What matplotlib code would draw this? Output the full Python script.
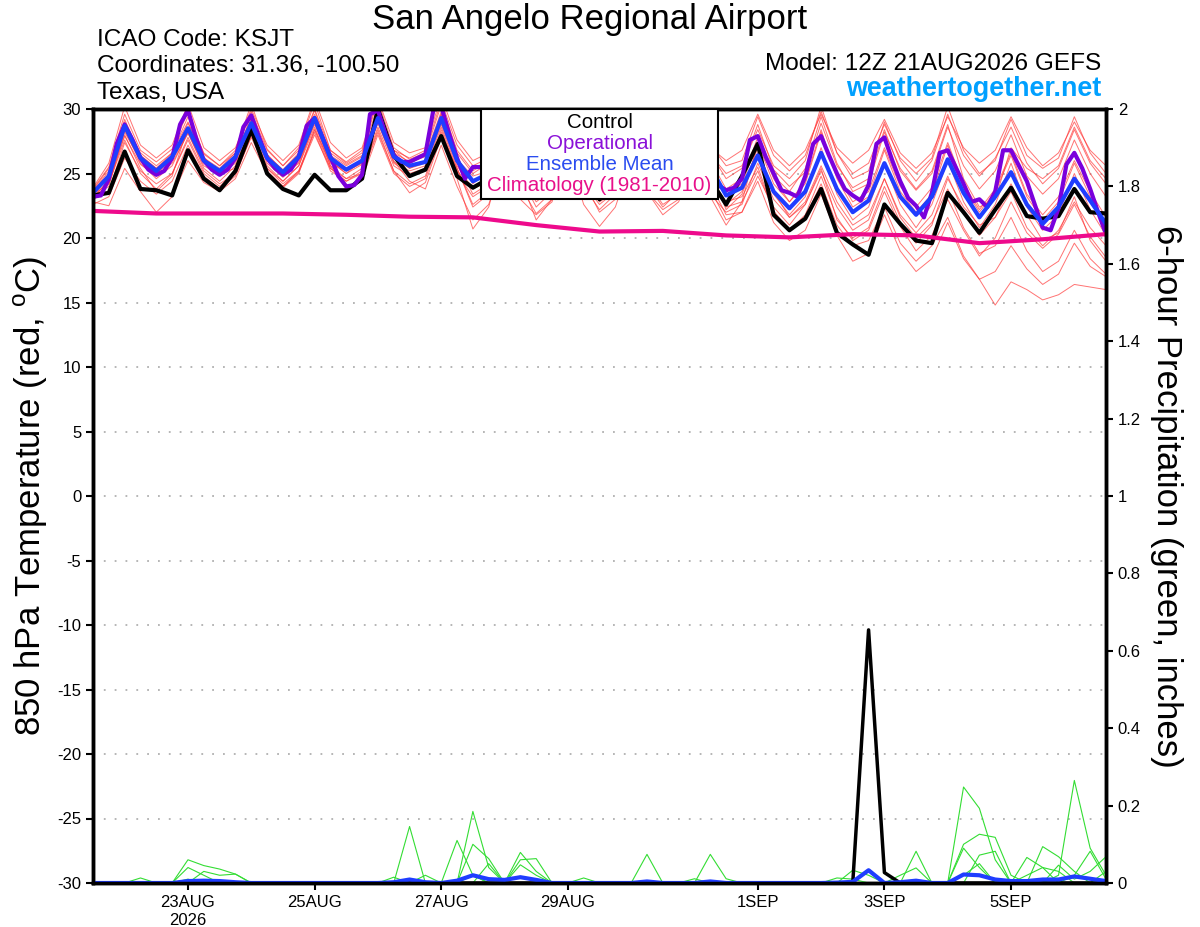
import numpy as np
import pandas as pd
import matplotlib
matplotlib.use('Agg')
import matplotlib.pyplot as plt
from matplotlib.patches import Rectangle

plt.rcParams['font.family'] = 'Liberation Sans'
plt.rcParams['mathtext.fontset'] = 'custom'
plt.rcParams['mathtext.rm'] = 'Liberation Sans'
plt.rcParams['axes.unicode_minus'] = False

# 6-hourly GEFS steps from 12Z 21AUG2026, operational run is 3-hourly
times = pd.date_range('2026-08-21 12:00', periods=65, freq='6h')
times_op = pd.date_range('2026-08-21 12:00', periods=129, freq='3h')
clim_times = pd.date_range('2026-08-21 12:00', periods=17, freq='24h')

ctl_t = [23.3, 23.5, 26.7, 23.8, 23.7, 23.3, 26.8, 24.6,
         23.7, 25.2, 28.4, 25.0, 23.8, 23.3, 24.9, 23.7,
         23.7, 24.6, 30.0, 26.4, 24.8, 25.3, 27.9, 24.8,
         23.9, 24.6, 27.8, 25.5, 23.6, 24.3, 27.5, 25.0,
         23.0, 24.0, 27.6, 25.2, 23.8, 24.5, 27.4, 24.5,
         22.6, 24.8, 27.3, 21.8, 20.6, 21.5, 23.8, 20.4,
         19.5, 18.7, 22.6, 21.1, 19.8, 19.6, 23.5, 22.0,
         20.4, 22.2, 23.9, 21.7, 21.5, 21.7, 23.8, 22.0, 21.9]

mean_t = [23.5, 24.8, 28.7, 26.2, 25.2, 26.3, 28.5, 26.0,
          25.2, 26.3, 28.9, 26.2, 25.1, 26.3, 29.3, 26.2,
          25.3, 26.0, 29.3, 26.3, 25.6, 25.9, 29.3, 26.0,
          24.4, 25.0, 28.3, 26.0, 24.6, 25.5, 28.4, 26.0,
          24.5, 25.5, 28.2, 25.8, 24.5, 25.3, 28.0, 25.5,
          23.3, 23.9, 26.4, 23.6, 22.3, 23.6, 26.6, 23.8,
          22.0, 22.9, 25.8, 23.2, 21.8, 23.2, 26.1, 23.5,
          21.6, 23.2, 25.1, 22.6, 21.1, 22.4, 24.6, 22.9, 21.1]

oper_t = [23.2, 23.3, 24.6, 27.3, 28.8, 27.6, 26.2, 25.3,
          24.9, 25.2, 26.2, 28.8, 29.9, 27.8, 26.0, 25.3,
          24.9, 25.3, 26.2, 28.6, 29.5, 27.8, 26.2, 25.4,
          24.9, 25.3, 26.3, 28.7, 29.3, 27.8, 26.3, 24.8,
          24.0, 24.1, 24.9, 29.6, 29.9, 28.0, 26.4, 25.9,
          25.9, 26.2, 26.5, 29.9, 30.2, 28.1, 26.2, 24.6,
          25.5, 25.5, 26.0, 28.5, 29.0, 27.5, 26.0, 25.0,
          24.6, 25.0, 26.0, 28.2, 28.8, 27.4, 26.0, 24.9,
          24.3, 24.8, 25.8, 28.0, 28.6, 27.0, 25.6, 24.8,
          24.4, 24.8, 25.6, 27.8, 28.4, 26.8, 25.2, 24.1,
          23.7, 23.9, 24.6, 27.6, 27.9, 26.3, 25.0, 23.7,
          23.5, 23.2, 24.8, 27.3, 27.9, 26.4, 25.0, 23.8,
          23.3, 22.9, 24.1, 27.3, 27.8, 26.0, 24.4, 23.1,
          22.5, 21.6, 23.5, 26.6, 26.8, 25.5, 24.2, 22.8,
          23.0, 22.4, 23.6, 26.8, 26.8, 25.6, 24.4, 22.6,
          20.8, 20.6, 22.3, 25.7, 26.6, 25.4, 23.8, 22.0,
          20.3]

clim_t = [22.1, 21.9, 21.9, 21.9, 21.8, 21.65, 21.6, 21.0, 20.5,
          20.55, 20.2, 20.05, 20.3, 20.2, 19.6, 19.9, 20.3]

ens_t = [
    [23.8, 25.5, 29.6, 26.8, 25.9, 26.9, 29.8, 26.5, 25.6, 26.8, 30.4, 26.9, 25.6, 27.0, 30.5, 26.8,
     25.9, 26.8, 30.6, 27.0, 26.1, 26.6, 30.3, 26.8, 25.2, 26.0, 29.6, 26.9, 25.4, 26.5, 29.8, 27.0,
     25.5, 26.6, 29.5, 26.8, 25.4, 26.2, 29.4, 26.6, 24.6, 25.4, 28.8, 25.3, 24.0, 25.1, 28.9, 25.6,
     23.9, 24.6, 28.4, 25.2, 23.7, 25.0, 28.6, 25.6, 23.8, 25.2, 28.0, 24.8, 23.4, 24.6, 27.6, 25.0, 23.2],
    [22.8, 22.5, 25.4, 23.6, 22.0, 23.2, 26.0, 24.3, 23.6, 24.6, 27.4, 25.0, 24.0, 25.1, 28.0, 25.4,
     24.6, 25.0, 28.2, 25.2, 23.5, 24.3, 27.8, 24.6, 20.7, 22.4, 26.8, 24.0, 21.9, 23.0, 27.0, 24.2,
     22.6, 23.6, 27.2, 24.6, 23.0, 24.0, 27.5, 24.6, 22.8, 23.2, 25.5, 22.1, 20.6, 21.8, 24.8, 21.6,
     19.8, 20.6, 23.6, 20.9, 19.0, 20.2, 23.0, 20.6, 18.6, 20.0, 22.8, 20.4, 19.2, 20.3, 22.6, 20.1, 18.5],
    [23.0, 24.6, 28.2, 26.0, 25.0, 26.2, 28.9, 26.3, 25.0, 26.0, 29.6, 26.5, 25.2, 26.5, 29.9, 26.4,
     25.6, 26.3, 29.9, 26.6, 25.9, 26.3, 29.6, 26.1, 24.8, 25.2, 28.8, 26.2, 24.8, 25.8, 29.0, 26.4,
     24.8, 25.8, 28.9, 26.2, 24.9, 25.8, 28.7, 26.0, 23.8, 24.6, 27.8, 24.6, 22.8, 24.2, 28.2, 24.8,
     22.8, 23.6, 27.0, 24.0, 22.4, 23.9, 27.4, 24.2, 22.2, 23.8, 26.6, 23.4, 21.8, 23.2, 26.0, 23.6, 21.6],
    [23.4, 24.2, 27.9, 25.7, 24.8, 25.8, 28.1, 25.6, 24.9, 25.8, 28.6, 25.8, 24.7, 25.9, 28.8, 25.9,
     25.0, 25.7, 28.9, 25.9, 25.2, 25.6, 28.8, 25.6, 23.8, 24.6, 27.9, 25.4, 23.8, 24.8, 27.6, 25.2,
     23.6, 24.6, 27.4, 25.0, 23.6, 24.4, 27.2, 24.6, 22.4, 22.8, 25.2, 22.0, 20.6, 21.6, 24.2, 21.0,
     19.4, 19.8, 22.4, 19.6, 18.2, 19.4, 21.6, 18.6, 16.8, 14.8, 16.6, 16.0, 15.2, 15.6, 16.4, 16.2, 16.0],
    [23.6, 25.2, 29.2, 26.4, 25.4, 26.6, 29.0, 26.2, 25.4, 26.6, 29.2, 26.4, 25.3, 26.6, 29.6, 26.6,
     25.7, 26.4, 29.6, 26.8, 26.2, 26.8, 30.6, 27.2, 25.6, 26.2, 29.2, 26.6, 25.2, 26.2, 29.4, 26.8,
     25.6, 26.4, 29.2, 26.8, 25.6, 26.4, 29.1, 26.5, 25.0, 25.6, 28.4, 25.6, 24.6, 26.0, 30.2, 26.6,
     24.6, 25.2, 29.0, 26.0, 24.4, 26.0, 29.6, 26.4, 24.8, 26.2, 28.6, 25.8, 24.2, 25.4, 28.4, 25.8, 24.2],
    [23.2, 24.0, 28.4, 25.8, 24.6, 25.6, 28.2, 25.4, 24.4, 25.6, 28.4, 25.6, 24.4, 25.6, 29.0, 25.6,
     24.6, 25.4, 29.0, 25.8, 25.0, 25.4, 28.6, 25.4, 22.6, 23.6, 27.6, 25.0, 22.8, 23.8, 27.4, 25.0,
     22.8, 23.6, 27.0, 24.4, 22.6, 23.4, 26.6, 23.8, 21.4, 22.0, 24.8, 22.4, 21.0, 22.6, 25.2, 22.4,
     20.6, 21.4, 24.6, 21.8, 20.4, 21.8, 24.8, 22.0, 20.2, 21.6, 23.6, 20.8, 19.4, 20.6, 22.8, 20.8, 19.4],
    [23.9, 25.8, 30.2, 27.2, 26.2, 27.2, 30.4, 27.0, 26.0, 27.0, 30.0, 27.2, 26.0, 27.2, 30.8, 27.4,
     26.2, 27.0, 30.8, 27.4, 26.6, 27.0, 31.0, 27.6, 26.0, 26.6, 30.4, 27.4, 26.0, 26.8, 30.2, 27.4,
     26.0, 27.0, 30.6, 27.4, 26.2, 26.8, 30.0, 27.2, 25.6, 26.0, 29.4, 26.4, 25.2, 26.4, 29.8, 26.6,
     25.0, 25.8, 28.8, 26.2, 25.0, 26.2, 30.2, 26.8, 25.0, 26.0, 29.2, 26.4, 25.4, 26.2, 29.4, 26.6, 25.0],
    [23.0, 23.6, 27.4, 25.2, 24.2, 25.0, 27.6, 25.0, 24.0, 25.0, 27.8, 25.2, 24.0, 25.2, 28.2, 25.2,
     24.4, 25.2, 28.6, 25.6, 24.8, 25.2, 28.2, 25.0, 23.2, 24.0, 27.0, 24.6, 23.2, 24.0, 26.8, 24.4,
     22.0, 23.0, 26.4, 23.6, 21.8, 22.8, 26.0, 23.4, 22.0, 22.6, 25.8, 23.0, 21.6, 22.8, 25.6, 22.8,
     21.0, 21.8, 24.6, 21.6, 20.0, 21.2, 23.8, 20.8, 18.8, 19.4, 21.6, 19.0, 17.4, 18.2, 20.6, 18.4, 17.2],
    [23.5, 25.0, 28.9, 26.4, 25.4, 26.4, 28.6, 26.2, 25.2, 26.4, 29.2, 26.2, 25.0, 26.2, 29.4, 26.0,
     25.0, 26.0, 29.6, 26.4, 25.4, 26.0, 29.6, 26.2, 24.2, 25.2, 28.6, 26.2, 24.8, 25.6, 28.6, 26.0,
     24.4, 25.4, 28.4, 25.8, 24.4, 25.4, 28.2, 25.6, 23.4, 24.2, 27.4, 24.2, 22.8, 24.4, 28.4, 24.6,
     22.4, 23.2, 26.8, 23.6, 22.0, 23.4, 27.2, 24.0, 22.0, 23.6, 26.4, 23.2, 21.4, 22.8, 25.8, 23.2, 21.0],
    [22.6, 23.2, 26.2, 24.4, 23.4, 24.4, 27.2, 24.8, 23.8, 24.8, 28.0, 25.4, 24.4, 25.6, 28.6, 25.6,
     23.8, 24.6, 28.0, 25.0, 24.0, 24.6, 28.0, 25.4, 22.4, 23.4, 27.4, 24.6, 21.4, 23.0, 27.8, 24.8,
     23.4, 24.4, 27.8, 25.2, 23.8, 24.8, 27.8, 25.2, 22.2, 23.4, 26.6, 23.4, 21.8, 23.2, 27.0, 23.4,
     21.4, 22.4, 25.8, 22.6, 20.8, 22.6, 26.0, 22.8, 20.8, 22.6, 25.8, 22.4, 20.6, 21.8, 25.0, 22.2, 20.2],
    [23.2, 24.4, 28.0, 25.4, 23.6, 24.8, 28.6, 26.0, 25.0, 25.4, 28.2, 25.0, 23.9, 25.0, 28.4, 25.8,
     25.2, 25.8, 29.2, 26.0, 24.4, 23.8, 27.2, 24.0, 21.4, 22.6, 26.2, 23.0, 21.8, 22.8, 26.6, 22.6,
     20.9, 22.4, 26.0, 23.6, 22.2, 23.0, 26.8, 23.2, 21.0, 22.8, 27.4, 24.8, 23.6, 25.4, 29.4, 25.8,
     23.6, 24.2, 28.2, 25.4, 23.8, 25.2, 28.8, 24.6, 22.4, 23.0, 27.0, 25.4, 24.6, 25.6, 28.6, 26.0, 24.6],
    [23.6, 24.9, 28.4, 26.0, 25.0, 26.0, 28.2, 25.8, 25.0, 26.0, 28.8, 26.0, 24.8, 25.8, 29.0, 26.0,
     25.2, 25.8, 29.0, 26.2, 25.4, 25.8, 29.0, 25.8, 23.4, 24.2, 28.0, 25.4, 23.6, 24.6, 28.0, 25.2,
     23.2, 24.4, 27.6, 24.8, 23.2, 24.2, 27.0, 24.2, 21.8, 22.0, 24.4, 21.2, 19.8, 20.6, 23.4, 20.2,
     18.2, 18.8, 21.8, 19.0, 17.4, 18.4, 21.2, 18.4, 16.8, 17.4, 19.4, 17.6, 16.4, 17.2, 19.6, 17.8, 17.0],
    [23.7, 25.4, 29.0, 26.6, 25.6, 26.6, 29.4, 26.6, 25.6, 26.6, 29.8, 26.8, 25.6, 26.8, 30.0, 26.8,
     25.8, 26.6, 30.2, 26.8, 25.8, 26.4, 29.8, 26.6, 25.0, 25.8, 29.2, 26.8, 25.6, 26.4, 29.6, 26.8,
     25.4, 26.2, 29.4, 26.8, 25.8, 26.6, 29.6, 27.0, 26.0, 26.8, 29.6, 26.8, 25.6, 26.8, 29.6, 27.0,
     25.8, 26.8, 29.2, 26.6, 25.4, 26.6, 29.4, 27.0, 25.8, 26.8, 29.4, 27.0, 25.6, 26.6, 29.0, 26.8, 25.6],
    [23.1, 24.2, 27.6, 25.0, 23.8, 25.0, 27.8, 25.2, 24.2, 25.0, 28.0, 25.4, 24.2, 25.2, 28.4, 25.4,
     24.4, 25.0, 28.4, 25.2, 24.2, 24.8, 28.4, 25.2, 23.8, 24.4, 27.6, 24.8, 22.4, 23.6, 27.2, 24.0,
     22.2, 23.4, 27.0, 24.2, 22.4, 23.6, 27.2, 24.0, 22.6, 23.6, 27.0, 23.6, 21.6, 22.6, 25.4, 21.4,
     20.0, 20.8, 24.0, 21.2, 19.6, 21.0, 24.6, 22.4, 21.0, 21.6, 24.2, 21.8, 19.8, 20.4, 23.2, 19.8, 18.2],
]

ctl_p = [0, 0, 0, 0, 0, 0, 0, 0, 0, 0, 0, 0, 0, 0, 0, 0,
         0, 0, 0, 0, 0, 0, 0, 0, 0, 0, 0, 0, 0, 0, 0, 0,
         0, 0, 0, 0, 0, 0, 0, 0, 0, 0, 0, 0, 0, 0, 0, 0,
         0, 0.654, 0.027, 0, 0, 0, 0, 0, 0, 0, 0, 0, 0, 0, 0, 0, 0]

mean_p = [0, 0, 0, 0, 0, 0, .005, .006, .005, .002, 0, 0, 0, 0, 0, 0,
          0, 0, 0, .002, .009, .002, 0, .006, .02, .01, .008, .015, .008, 0, 0, 0,
          0, 0, 0, .004, 0, 0, 0, .004, 0, 0, 0, 0, 0, 0, 0, .001,
          .003, .033, 0, .002, .006, 0, 0, .022, .02, .009, .005, .005, .009, .009, .017, .011, .005]

ens_p = [
    [0, 0, 0, 0, 0, 0, .06, .045, .036, .023, 0, 0, 0, 0, 0, 0,
     0, 0, 0, 0, .146, 0, 0, 0, .185, .04, 0, 0, 0, 0, 0, 0,
     0, 0, 0, 0, 0, 0, 0, 0, 0, 0, 0, 0, 0, 0, 0, 0,
     0, 0, 0, 0, 0, 0, 0, .248, .193, .06, 0, 0, 0, .02, .265, .09, .02],
    [0, 0, 0, 0, 0, 0, .04, .02, 0, 0, 0, 0, 0, 0, 0, 0,
     0, 0, 0, 0, 0, 0, 0, .11, .02, 0, 0, .079, .03, 0, 0, 0,
     0, 0, 0, 0, 0, 0, 0, 0, 0, 0, 0, 0, 0, 0, 0, 0,
     0, 0, 0, 0, .082, 0, 0, .10, .126, .118, .02, 0, .094, .068, .03, 0, 0],
    [0, 0, 0, 0, 0, 0, 0, .03, .02, .023, 0, 0, 0, 0, 0, 0,
     0, 0, 0, .015, 0, 0, 0, 0, .10, .063, 0, .06, .063, 0, 0, 0,
     0, 0, 0, .074, 0, 0, 0, 0, 0, 0, 0, 0, 0, 0, 0, 0,
     .033, .02, 0, 0, 0, 0, 0, 0, .072, .082, 0, .066, .04, 0, .02, .082, .01],
    [0, 0, 0, .013, 0, 0, 0, 0, 0, 0, 0, 0, 0, 0, 0, 0,
     0, 0, 0, 0, 0, .02, 0, 0, 0, .05, 0, .047, .02, 0, 0, 0,
     0, 0, 0, 0, 0, 0, 0, .074, .011, 0, 0, 0, 0, 0, 0, 0,
     0, 0, 0, .02, .039, 0, 0, .02, .05, 0, 0, 0, 0, .046, .01, .03, .068],
    [0, 0, 0, 0, 0, 0, .01, 0, 0, 0, 0, 0, 0, 0, 0, 0,
     0, 0, 0, 0, 0, 0, 0, 0, .02, 0, 0, 0, 0, 0, 0, .013,
     0, 0, 0, 0, 0, 0, .011, 0, 0, 0, 0, 0, 0, 0, 0, .013,
     .01, 0, 0, 0, 0, 0, 0, .09, .04, 0, 0, .02, .04, .03, 0, 0, .03],
]

date_ticks = ['2026-08-23', '2026-08-25', '2026-08-27', '2026-08-29',
              '2026-09-01', '2026-09-03', '2026-09-05']
date_labels = ['23AUG\n2026', '25AUG', '27AUG', '29AUG', '1SEP', '3SEP', '5SEP']

fig = plt.figure(figsize=(12, 9.27), dpi=100)
ax = fig.add_axes([93/1200, 1 - 883/927, (1106 - 93)/1200, (883 - 109)/927])
ax2 = ax.twinx()

for m in ens_t:
    ax.plot(times, m, color='#ff3838', lw=0.7, alpha=0.7)
ax.plot(times, ctl_t, color='black', lw=3)
ax.plot(times_op, oper_t, color='#7a00dc', lw=3)
ax.plot(times, mean_t, color='#1f3dff', lw=3)
ax.plot(clim_times, clim_t, color='#ee0a8c', lw=3)

for m in ens_p:
    ax2.plot(times, m, color='#33dd33', lw=0.8)
ax2.plot(times, ctl_p, color='black', lw=2.5)
ax2.plot(times, mean_p, color='#1f3dff', lw=3)

ax.set_xlim(times[0], times[-1])
ax.set_ylim(-30, 30)
ax2.set_ylim(0, 2)
ax.set_yticks(np.arange(-30, 31, 5))
ax2.set_yticks(np.arange(0, 2.01, 0.2))
ax2.set_yticklabels(['0', '0.2', '0.4', '0.6', '0.8', '1', '1.2', '1.4', '1.6', '1.8', '2'])
ax.set_xticks(pd.to_datetime(date_ticks))
ax.set_xticklabels(date_labels, linespacing=1.3)

for g in range(-25, 30, 5):
    ax.axhline(g, color='#b0b0b0', lw=1.3, ls=(0, (1, 5)), zorder=0)

for a in (ax, ax2):
    for s in a.spines.values():
        s.set_linewidth(2.5)
    a.tick_params(length=5, width=1.5, labelsize=12)

ax.set_ylabel('850 hPa Temperature (red, $^{\\mathrm{o}}$C)', fontsize=25)
ax.yaxis.set_label_coords(-0.042, 0.5)
ax2.set_ylabel('6-hour Precipitation (green, inches)', fontsize=25, rotation=270, labelpad=30)

# legend box
ax2.add_patch(Rectangle((0.383, 0.884), 0.234, 0.116, transform=ax2.transAxes,
                        facecolor='white', edgecolor='black', lw=1.5, zorder=10, clip_on=False))
leg_items = [('Control', 'black'), ('Operational', '#8a10d8'),
             ('Ensemble Mean', '#2a4cf0'), ('Climatology (1981-2010)', '#e8108a')]
for k, (txt, c) in enumerate(leg_items):
    y = 1 - (122 - 109 + k * 21.3) / 774
    ax2.text(0.5, y, txt, color=c, fontsize=14.8, ha='center', va='center',
             transform=ax2.transAxes, zorder=11)

fig.text(590/1200, 1 - 19/927, 'San Angelo Regional Airport', fontsize=25, ha='center', va='center')
fig.text(97/1200, 1 - 40/927, 'ICAO Code: KSJT', fontsize=17.6, ha='left', va='center')
fig.text(97/1200, 1 - 66/927, 'Coordinates: 31.36, -100.50', fontsize=17.6, ha='left', va='center')
fig.text(97/1200, 1 - 93/927, 'Texas, USA', fontsize=17.6, ha='left', va='center')
fig.text(1101/1200, 1 - 64/927, 'Model: 12Z 21AUG2026 GEFS', fontsize=17.6, ha='right', va='center')
fig.text(1101/1200, 1 - 89/927, 'weathertogether.net', fontsize=19.4, ha='right', va='center',
         color='#00a0ff', weight='bold')

plt.savefig('out.png', dpi=100)
